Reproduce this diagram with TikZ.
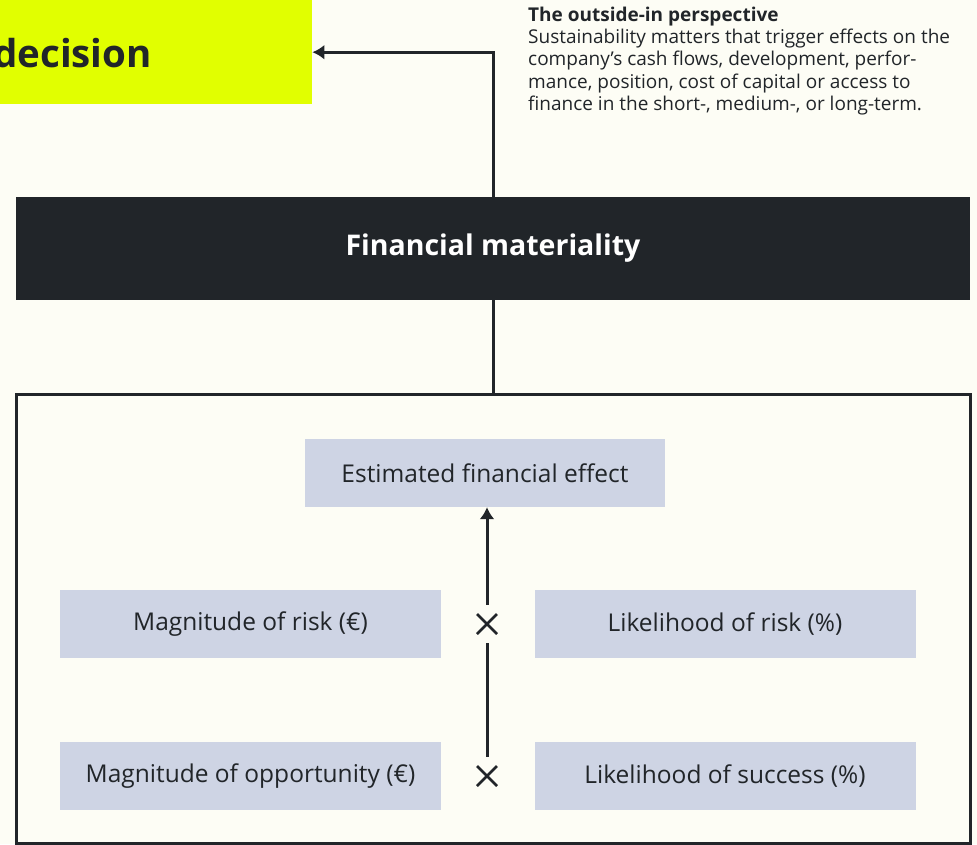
\documentclass[tikz,border=0pt]{standalone}
\usepackage{fontspec}
\setmainfont{Open Sans}
\usetikzlibrary{arrows.meta}

\definecolor{paper}{HTML}{FDFDF5}
\definecolor{lime}{HTML}{E1FF00}
\definecolor{ink}{HTML}{212529}
\definecolor{boxblue}{HTML}{CED4E4}

\tikzset{
	lightbox/.style = {fill = boxblue, minimum width = 381pt, minimum height = 68pt, inner sep = 0pt, text = ink, font = \fontsize{24.5}{28}\selectfont},
	timesmark/.style = {minimum size = 38pt, inner sep = 0pt,
		path picture = {\draw [ink, line width = 2.6pt] ([shift = {(-10pt, -10pt)}]path picture bounding box.center) -- ([shift = {(10pt, 10pt)}]path picture bounding box.center)
			([shift = {(-10pt, 10pt)}]path picture bounding box.center) -- ([shift = {(10pt, -10pt)}]path picture bounding box.center);}},
	link/.style = {ink, line width = 3pt}
}

\begin{document}
\begin{tikzpicture}[x = 1pt, y = -1pt, > = {Latex[length = 12pt, width = 15pt]}]

	% Canvas

	\useasboundingbox [fill = paper] (0, 0) rectangle (977, 844);

	% Decision box, cut at the left edge

	\node [fill = lime, minimum width = 312pt, minimum height = 104pt, inner sep = 0pt, anchor = north west] (dec) at (0, 0) {};
	\node [anchor = base east, inner sep = 0pt, text = ink, font = \fontsize{38.5}{46}\selectfont\bfseries] (dectext) at (152, 67) {decision};

	% Perspective note

	\node [anchor = north west, inner sep = 0pt, align = left, text = ink, font = \fontsize{19}{22.3}\selectfont] (note) at (528, 6.5) {%
		\textbf{The outside-in perspective}\\
		Sustainability matters that trigger effects on the\\
		company’s cash flows, development, perfor-\\
		mance, position, cost of capital or access to\\
		finance in the short-, medium-, or long-term.};

	% Financial materiality bar

	\node [fill = ink, minimum width = 954pt, minimum height = 103pt, inner sep = 0pt, text = white, font = \fontsize{28.5}{32}\selectfont\bfseries] (fin) at (493, 248.5) {Financial materiality};

	% Calculation frame

	\node [draw = ink, line width = 3pt, minimum width = 954pt, minimum height = 449pt, inner sep = 0pt] (calc) at (493, 618.5) {};

	% Boxes inside the frame

	\node [lightbox, minimum width = 360pt] (est) at (485, 473) {Estimated financial effect};
	\node [lightbox] (magrisk) at (250.5, 624) {Magnitude of risk (€)};
	\node [lightbox] (likrisk) at (725, 624) {Likelihood of risk (\%)};
	\node [lightbox] (magopp) at (250.5, 776) {Magnitude of opportunity (€)};
	\node [lightbox] (liksucc) at (725, 776) {Likelihood of success (\%)};

	\node [timesmark] (xrisk) at (487, 624) {};
	\node [timesmark] (xopp) at (487, 776) {};

	% Connectors

	\draw [link, ->] (fin.north) |- (dec.east);
	\draw [link] (fin.south) -- (calc.north);
	\draw [link] (xopp) -- (xrisk);
	\draw [link, ->] (xrisk) -- (xrisk |- est.south);

\end{tikzpicture}
\end{document}
